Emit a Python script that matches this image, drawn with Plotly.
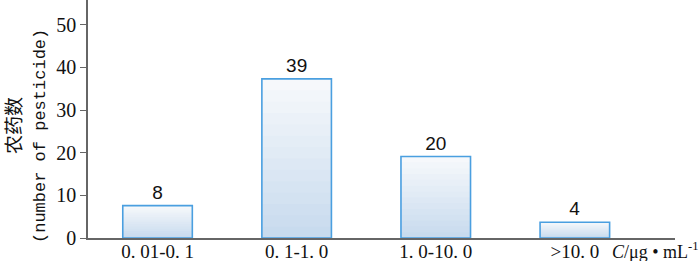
import plotly.graph_objects as go

categories = ["0. 01-0. 1", "0. 1-1. 0", "1. 0-10. 0", ">10. 0"]
bar_heights = [7.6, 37.3, 19.1, 3.7]
bar_labels = ["8", "39", "20", "4"]
y_ticks = [0, 10, 20, 30, 40, 50]

xpos = list(range(len(categories)))
N = 14
top_rgb = (246, 248, 251)
bot_rgb = (200, 219, 238)

W, H = 700, 261
l, r, t, b = 88, 25, 0, 23
pw, ph = W - l - r, H - t - b


def px_x(x):
    return (x - l) / pw


def px_y(y):
    return (H - b - y) / ph


fig = go.Figure()
for k in range(N):
    f = 1 - k / N
    tt = k / (N - 1)
    c = tuple(round(top_rgb[i] + (bot_rgb[i] - top_rgb[i]) * tt) for i in range(3))
    fig.add_trace(go.Bar(
        x=xpos, y=[v * f for v in bar_heights], width=0.5,
        marker=dict(color="rgb(%d,%d,%d)" % c, line=dict(width=0)),
        hoverinfo="skip", showlegend=False))
fig.add_trace(go.Bar(
    x=xpos, y=bar_heights, width=0.5,
    marker=dict(color="rgba(0,0,0,0)", line=dict(color="#4a9fe0", width=1.6)),
    text=bar_labels, textposition="outside", cliponaxis=False,
    textfont=dict(family="Liberation Sans", size=19, color="#111"),
    showlegend=False))

fig.update_layout(
    width=W, height=H, barmode="overlay",
    margin=dict(l=l, r=r, t=t, b=b, autoexpand=False),
    paper_bgcolor="white", plot_bgcolor="white",
    xaxis=dict(range=[-0.5, 3.72], tickvals=xpos, ticktext=categories,
               showline=True, linecolor="#666", linewidth=1.5, ticks="",
               showgrid=False, zeroline=False, automargin=False,
               ticklabelstandoff=-5,
               tickfont=dict(family="Liberation Serif", size=19, color="#111")),
    yaxis=dict(range=[0, 55.8], tickvals=y_ticks, showline=True,
               linecolor="#666", linewidth=1.5, ticks="outside", ticklen=6,
               tickcolor="#666", showgrid=False, zeroline=False, automargin=False,
               tickfont=dict(family="Liberation Serif", size=20, color="#111")),
    annotations=[
        dict(text="农药数", x=px_x(12), y=px_y(126), xref="paper", yref="paper",
             xanchor="center", yanchor="middle",
             textangle=-90, showarrow=False,
             font=dict(family="Noto Sans CJK SC", size=19, color="#111")),
        dict(text="(number of pesticide)", x=px_x(40), y=px_y(136), xref="paper", yref="paper",
             xanchor="center", yanchor="middle",
             textangle=-90, showarrow=False,
             font=dict(family="Liberation Mono", size=17, color="#111")),
        dict(text="<i>C</i>/μg • mL<sup>-1</sup>", x=px_x(700), y=px_y(250), xref="paper", yref="paper",
             xanchor="right", yanchor="middle", showarrow=False,
             font=dict(family="Liberation Serif", size=18, color="#111")),
    ],
)
fig.write_html("out.html", config={"displayModeBar": False},
               post_script="document.body.style.margin='0';")
